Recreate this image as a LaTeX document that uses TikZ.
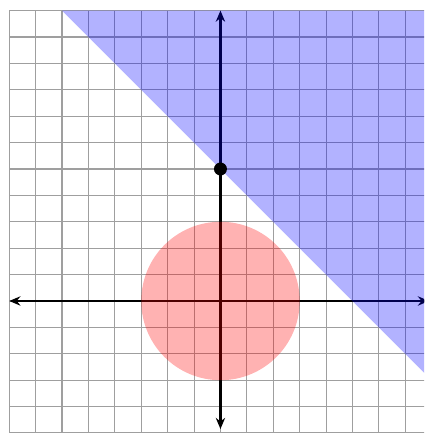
\documentclass[tikz,border=0pt]{standalone}
\usetikzlibrary{arrows.meta}
\begin{document}
\begin{tikzpicture}[x=0.5cm,y=0.5cm,
  gridline/.style={gray!75, line width=0.6pt},
  axis/.style={line width=1.2pt, black, {Stealth[length=6pt,width=5pt]}-{Stealth[length=6pt,width=5pt]}},
  halfplane/.style={fill=blue, fill opacity=0.3},
  disc/.style={fill=red, fill opacity=0.3},
  pt/.style={circle, fill=black, inner sep=0pt, minimum size=7pt}]
\useasboundingbox (-8.35,-5.0) rectangle (7.71,11.4);
\clip (-8.35,-5.0) rectangle (7.71,11.05);
\draw[gridline, step=0.5cm] (-8,-6) grid (9,11);
\coordinate (xl) at (-8,0);
\coordinate (xr) at (7.9,0);
\coordinate (yb) at (0,-4.85);
\coordinate (yt) at (0,11);
\draw[axis] (xl) -- (xr);
\draw[axis] (yb) -- (yt);
\fill[halfplane] (-6,11) -- (9,11) -- (9,-4) -- cycle;
\fill[disc] (0,0) circle (3);
\node[pt] (p) at (0,5) {};
\end{tikzpicture}
\end{document}
